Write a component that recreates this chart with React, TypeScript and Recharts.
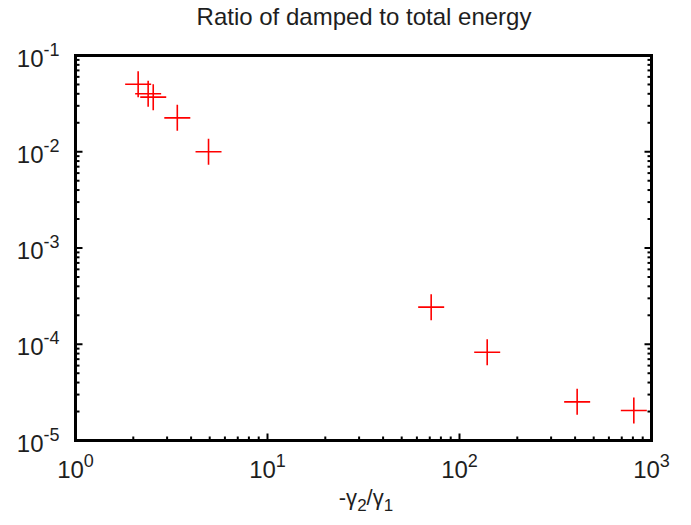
import React from 'react';
import { ScatterChart, Scatter, XAxis, YAxis } from 'recharts';

// measured points: -gamma2/gamma1 vs damped/total energy
const xValues = [2.12, 2.39, 2.54, 3.39, 4.93, 71.2, 139.4, 410, 809];
const yValues = [0.0503, 0.04, 0.0369, 0.0225, 0.01, 2.43e-4, 8.27e-5, 2.52e-5, 2.05e-5];

const xMajorTicks = [1, 10, 100, 1000];
const yMajorTicks = [1e-5, 1e-4, 1e-3, 1e-2, 1e-1];
const minorSteps = [2, 3, 4, 5, 6, 7, 8, 9];

const FONT = '"Liberation Sans", Arial, Helvetica, sans-serif';
const TEXT = '#1e1e1e';

const withMinor = (majors: number[]) => {
  const out: number[] = [];
  majors.forEach((m, i) => {
    out.push(m);
    if (i < majors.length - 1) minorSteps.forEach(s => out.push(m * s));
  });
  return out;
};

const xTicks = withMinor(xMajorTicks);
const yTicks = withMinor(yMajorTicks);

const isMajor = (v: number) => Math.abs(Math.log10(v) - Math.round(Math.log10(v))) < 1e-6;
const expOf = (v: number) => String(Math.round(Math.log10(v)));

const data = xValues.map((x, i) => ({ x, y: yValues[i] }));

const frame = { stroke: '#000', strokeWidth: 3, strokeLinecap: 'square' as const };

const BottomTick = ({ x, y, payload }: any) => {
  const v = payload.value;
  const major = isMajor(v);
  return (
    <g>
      <line x1={x} y1={y} x2={x} y2={y - (major ? 7 : 4)} stroke="#000" strokeWidth={2} />
      {major && (
        <text x={x} y={y + 37} textAnchor="middle" fontFamily={FONT} fontSize={24} fill={TEXT}>
          10<tspan dy={-11} fontSize={18}>{expOf(v)}</tspan>
        </text>
      )}
    </g>
  );
};

const TopTick = ({ x, y, payload }: any) => {
  const major = isMajor(payload.value);
  return <line x1={x} y1={y} x2={x} y2={y + (major ? 7 : 4)} stroke="#000" strokeWidth={2} />;
};

const LeftTick = ({ x, y, payload }: any) => {
  const v = payload.value;
  const major = isMajor(v);
  return (
    <g>
      <line x1={x} y1={y} x2={x + (major ? 7 : 4)} y2={y} stroke="#000" strokeWidth={2} />
      {major && (
        <text x={x - 16} y={y + 11} textAnchor="end" fontFamily={FONT} fontSize={24} fill={TEXT}>
          10<tspan dy={-11} fontSize={18}>{expOf(v)}</tspan>
        </text>
      )}
    </g>
  );
};

const RightTick = ({ x, y, payload }: any) => {
  const major = isMajor(payload.value);
  return <line x1={x} y1={y} x2={x - (major ? 7 : 4)} y2={y} stroke="#000" strokeWidth={2} />;
};

const Cross = ({ cx, cy }: any) => (
  <g>
    <line x1={cx - 13} y1={cy} x2={cx + 13} y2={cy} stroke="#ff0000" strokeWidth={1.6} />
    <line x1={cx} y1={cy - 13} x2={cx} y2={cy + 13} stroke="#ff0000" strokeWidth={1.6} />
  </g>
);

export default function App() {
  return (
    <div style={{ position: 'absolute', left: 0, top: 0, width: 691, height: 525, background: '#fff' }}>
      <ScatterChart width={691} height={525} margin={{ top: 54.5, right: 38.5, bottom: 83.5, left: 74.5 }}>
        <XAxis
          xAxisId="bottom"
          dataKey="x"
          type="number"
          scale="log"
          domain={[1, 1000]}
          allowDataOverflow
          ticks={xTicks}
          interval={0}
          height={1}
          tickSize={0}
          tickMargin={0}
          tickLine={false}
          axisLine={frame}
          tick={<BottomTick />}
        />
        <XAxis
          xAxisId="top"
          orientation="top"
          type="number"
          scale="log"
          domain={[1, 1000]}
          allowDataOverflow
          ticks={xTicks}
          interval={0}
          height={1}
          tickSize={0}
          tickMargin={0}
          tickLine={false}
          axisLine={frame}
          tick={<TopTick />}
        />
        <YAxis
          yAxisId="left"
          dataKey="y"
          type="number"
          scale="log"
          domain={[1e-5, 1e-1]}
          allowDataOverflow
          ticks={yTicks}
          interval={0}
          width={1}
          tickSize={0}
          tickMargin={0}
          tickLine={false}
          axisLine={frame}
          tick={<LeftTick />}
        />
        <YAxis
          yAxisId="right"
          orientation="right"
          type="number"
          scale="log"
          domain={[1e-5, 1e-1]}
          allowDataOverflow
          ticks={yTicks}
          interval={0}
          width={1}
          tickSize={0}
          tickMargin={0}
          tickLine={false}
          axisLine={frame}
          tick={<RightTick />}
        />
        <Scatter
          xAxisId="bottom"
          yAxisId="left"
          data={data}
          shape={<Cross />}
          isAnimationActive={false}
        />
        <text x={364} y={25} textAnchor="middle" fontFamily={FONT} fontSize={24} fill={TEXT}>
          Ratio of damped to total energy
        </text>
        <text x={366} y={505} textAnchor="middle" fontFamily={FONT} fontSize={22} fill={TEXT}>
          -γ<tspan dy={6} fontSize={17}>2</tspan>
          <tspan dy={-6}>/γ</tspan>
          <tspan dy={6} fontSize={17}>1</tspan>
        </text>
      </ScatterChart>
    </div>
  );
}
